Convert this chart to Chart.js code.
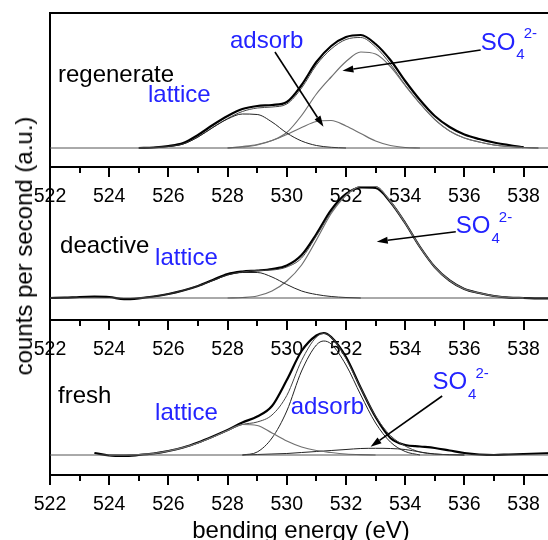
<!DOCTYPE html>
<html>
<head>
<meta charset="utf-8">
<script src="https://cdn.jsdelivr.net/npm/chart.js@4.4.1/dist/chart.umd.min.js"></script>
<style>
  html, body { margin: 0; padding: 0; background: #fff; }
  #wrap { position: relative; width: 548px; height: 540px; overflow: hidden; background: #fff; }
  canvas { position: absolute; left: 0; }
  #ytitle {
    position: absolute; left: 24px; top: 246px;
    transform: translate(-50%, -50%) rotate(-90deg);
    font: 24px "Liberation Sans", Arial, sans-serif;
    line-height: 1; white-space: nowrap; color: #000;
  }
</style>
</head>
<body>
<div id="wrap">
  <canvas id="regenChart" width="552" height="212" style="top:0px"></canvas>
  <canvas id="deactChart" width="552" height="208" style="top:157px"></canvas>
  <canvas id="freshChart" width="552" height="236" style="top:310px"></canvas>
  <div id="ytitle">counts per second (a.u.)</div>
</div>
<script>
// binding energy grid (eV)
const energyGrid = [522, 522.5, 523, 523.5, 524, 524.5, 525, 525.5, 526, 526.5, 527, 527.5,
  528, 528.5, 529, 529.5, 530, 530.5, 531, 531.5, 532, 532.5, 533, 533.5,
  534, 534.5, 535, 535.5, 536, 536.5, 537, 537.5, 538, 538.5, 539];
const freshEnergy = [522, 522.5, 523, 523.5, 524, 524.5, 525, 525.5, 526, 526.5, 527, 527.5,
  528, 528.5, 529, 529.5, 530, 530.5, 531, 531.25, 531.5, 532, 532.5, 533, 533.5,
  534, 534.5, 535, 535.5, 536, 536.5, 537, 537.5, 538, 538.5, 539];
const baselineEnergy = [522, 539];
const baselineLevel = [0, 0];
const xTickValues = [522, 524, 526, 528, 530, 532, 534, 536, 538];

// regenerate
const regenEnvelope = [null, null, null, null, null, null, 0, 0.5, 2, 5, 13, 23,
  32, 39, 42, 43, 46, 63, 86, 102, 111, 113, 104, 88,
  67, 48, 32, 21, 13.5, 9, 5.5, 3, 0.8, null, null];
const regenSum = [null, null, null, null, null, null, 0, 0.5, 1.5, 4, 11, 20.5,
  29.5, 36.5, 40, 41, 44, 60, 83, 99, 108.5, 110.5, 101, 84,
  63, 44.5, 28.5, 17, 10, 6, 3, 1.5, 0.5, 0, null];
const regenLattice = [null, null, null, null, null, null, 0, 0.5, 1.5, 4, 11, 20.5,
  29, 34, 33.5, 26, 15, 7, 2.5, 0.7, 0, null, null, null,
  null, null, null, null, null, null, null, null, null, null, null];
const regenAdsorb = [null, null, null, null, null, null, null, null, null, null, null, null,
  0, 1.5, 3.5, 7.5, 13.5, 20.5, 26.5, 27.5, 22, 14.5, 7, 2.5,
  0.5, 0, null, null, null, null, null, null, null, null, null];
const regenSulfate = [null, null, null, null, null, null, null, null, null, null, null, null,
  0, 1, 3, 7.5, 15.5, 32.5, 54, 71, 86.5, 96, 94, 81.5,
  62.5, 44.5, 28.5, 17, 10, 6, 3, 1.5, 0.5, 0, null];

// deactive
const deactEnvelope = [0, 0.3, 1, 1.3, 1, -1.2, -0.3, 1.5, 4, 7.5, 12, 18,
  24, 26.5, 27.5, 29, 32.5, 43, 64, 88, 104, 110.5, 110, 96,
  75, 51, 31, 17.5, 9, 5, 2, 0.3, 0, -0.3, -0.3];
const deactSum = [null, null, null, null, null, null, 0, 1.5, 4, 7.5, 12, 17.5,
  23, 26, 27.5, 28, 31, 40, 62, 86, 103, 111.5, 111.5, 96.5,
  75, 51, 31, 17.5, 9, 5, 2, 0.5, 0, null, null];
const deactLattice = [null, null, null, null, null, null, 0, 1.5, 4, 7.5, 12, 17.5,
  23, 25.5, 25.5, 21, 13.5, 7, 3.5, 1.5, 0.5, 0, null, null,
  null, null, null, null, null, null, null, null, null, null, null];
const deactSulfate = [null, null, null, null, null, null, null, null, null, null, null, null,
  0, 0.5, 2, 7, 17, 33, 58, 84.5, 102.5, 111.5, 111.5, 96.5,
  75, 51, 31, 17.5, 9, 5, 2, 0.5, 0, null, null];

// fresh
const freshEnvelope = [null, null, null, 2, -0.5, -1, 0, 1.5, 4, 7.5, 12.5, 18.5,
  25, 32.5, 38.5, 49, 75, 104, 119.5, 122, 118, 98, 67, 38, 17,
  10, 8.5, 7, 4.5, 2, 0.5, 0, 0.5, 1, 1.5, 2];
const freshSum = [null, null, null, null, 0, 0, 0.5, 1.5, 4, 7.5, 12, 18,
  24.5, 30.5, 33, 40, 59.5, 94.5, 118, 121.5, 118, 96.5, 66.8, 38.7, 19.5,
  9, 3, 1, 0.3, 0, null, null, null, null, null, null];
const freshLattice = [null, null, null, null, 0, 0, 0.5, 1.5, 4, 7.5, 12, 18,
  24.5, 30.5, 29.5, 22, 14, 8, 4.5, 3.5, 2.5, 1, 0.3, 0, null,
  null, null, null, null, null, null, null, null, null, null, null];
const freshAdsorb = [null, null, null, null, null, null, null, null, null, null, null, null,
  null, 0, 3, 17, 44, 84, 110, 114, 111, 90, 60, 32, 13,
  3.5, 0, null, null, null, null, null, null, null, null, null];
const freshSulfate = [null, null, null, null, null, null, null, null, null, null, null, null,
  null, 0, 0.5, 1, 1.5, 2.5, 3.5, 4, 4.5, 5.5, 6.5, 6.7, 6.5,
  5.5, 3, 1, 0.3, 0, null, null, null, null, null, null];

const FONT = '"Liberation Sans", Arial, sans-serif';
const BLUE = '#2323ff';

function series(energy, values) {
  const pts = [];
  energy.forEach((e, i) => {
    if (values[i] !== null) pts.push({ x: e, y: values[i] });
  });
  return pts;
}

function curve(data, color, width) {
  return {
    data,
    borderColor: color,
    borderWidth: width,
    pointRadius: 0,
    fill: false,
    cubicInterpolationMode: 'monotone'
  };
}

function drawArrow(ctx, x1, y1, x2, y2) {
  const ang = Math.atan2(y2 - y1, x2 - x1);
  const len = 11, half = 3.5;
  const bx = x2 - len * Math.cos(ang);
  const by = y2 - len * Math.sin(ang);
  ctx.strokeStyle = '#000';
  ctx.fillStyle = '#000';
  ctx.lineWidth = 1.6;
  ctx.beginPath();
  ctx.moveTo(x1, y1);
  ctx.lineTo(bx, by);
  ctx.stroke();
  ctx.beginPath();
  ctx.moveTo(x2, y2);
  ctx.lineTo(bx + half * Math.sin(ang), by - half * Math.cos(ang));
  ctx.lineTo(bx - half * Math.sin(ang), by + half * Math.cos(ang));
  ctx.closePath();
  ctx.fill();
}

const panelDecor = {
  id: 'panelDecor',
  afterDraw(chart, args, opts) {
    const { ctx, chartArea, scales: { x, y } } = chart;
    ctx.save();

    // minor ticks every 1 eV
    ctx.strokeStyle = '#000';
    ctx.lineWidth = 2;
    for (let v = 523; v < 539; v += 2) {
      const px = Math.round(x.getPixelForValue(v));
      ctx.beginPath();
      ctx.moveTo(px, chartArea.bottom);
      ctx.lineTo(px, chartArea.bottom + 6);
      ctx.stroke();
    }

    (opts.arrows || []).forEach(a => {
      drawArrow(ctx,
        x.getPixelForValue(a.from[0]), y.getPixelForValue(a.from[1]),
        x.getPixelForValue(a.to[0]), y.getPixelForValue(a.to[1]));
    });

    ctx.textBaseline = 'middle';
    ctx.textAlign = 'left';
    (opts.labels || []).forEach(l => {
      const px = x.getPixelForValue(l.x);
      const py = y.getPixelForValue(l.y);
      ctx.fillStyle = l.color;
      ctx.font = '24px ' + FONT;
      ctx.fillText(l.text, px, py);
      if (l.sub) {
        const w = ctx.measureText(l.text).width;
        ctx.font = '15px ' + FONT;
        ctx.fillText(l.sub, px + w + 1, py + 12);
        const ws = ctx.measureText(l.sub).width;
        ctx.fillText(l.sup, px + w + ws, py - 9);
      }
    });
    ctx.restore();
  }
};

function makePanel(canvasId, datasets, yMin, yMax, padTop, axisHeight, decor, extra) {
  const scales = {
    x: {
      type: 'linear',
      min: 522,
      max: 538.96,
      afterFit: s => { s.height = axisHeight; },
      grid: { drawOnChartArea: false, drawTicks: true, tickLength: 10, color: '#000', lineWidth: 2 },
      border: { display: true, color: '#000', width: 2 },
      afterBuildTicks: s => { s.ticks = xTickValues.map(v => ({ value: v })); },
      ticks: {
        color: '#000',
        padding: 8,
        maxRotation: 0,
        autoSkip: false,
        font: { family: FONT, size: 19.5 }
      },
      title: extra.xTitle ? {
        display: true,
        text: extra.xTitle,
        color: '#000',
        padding: 0,
        font: { family: FONT, size: 24 }
      } : { display: false }
    },
    y: {
      type: 'linear',
      min: yMin,
      max: yMax,
      afterFit: s => { s.width = 50; },
      grid: { display: false, drawTicks: false },
      border: { display: true, color: '#000', width: 2 },
      ticks: { display: false }
    }
  };
  if (extra.topBorder) {
    scales.xTop = {
      type: 'linear',
      position: 'top',
      min: 522,
      max: 538.96,
      afterFit: s => { s.height = 0; },
      grid: { display: false, drawTicks: false },
      border: { display: true, color: '#000', width: 2 },
      ticks: { display: false }
    };
  }
  return new Chart(document.getElementById(canvasId), {
    type: 'line',
    data: { datasets },
    options: {
      responsive: false,
      animation: false,
      layout: { padding: { top: padTop, left: 0, right: 0, bottom: 0 } },
      scales,
      plugins: {
        legend: { display: false },
        tooltip: { enabled: false },
        panelDecor: decor
      }
    },
    plugins: [panelDecor]
  });
}

const GRAY = '#707070';
const baseLine = () => curve(series(baselineEnergy, baselineLevel), '#555', 1);

makePanel('regenChart', [
  baseLine(),
  curve(series(energyGrid, regenLattice), '#222', 1),
  curve(series(energyGrid, regenAdsorb), GRAY, 1.2),
  curve(series(energyGrid, regenSulfate), GRAY, 1.2),
  curve(series(energyGrid, regenSum), '#444', 1),
  curve(series(energyGrid, regenEnvelope), '#000', 2.2)
], -19, 135, 13, 45, {
  labels: [
    { text: 'regenerate', x: 522.27, y: 73, color: '#000' },
    { text: 'lattice', x: 525.31, y: 53, color: BLUE },
    { text: 'adsorb', x: 528.08, y: 106.3, color: BLUE },
    { text: 'SO', sub: '4', sup: '2-', x: 536.55, y: 105, color: BLUE }
  ],
  arrows: [
    { from: [529.6, 96], to: [531.24, 21.3] },
    { from: [536.55, 98], to: [531.88, 77.3] }
  ]
}, { topBorder: true });

makePanel('deactChart', [
  baseLine(),
  curve(series(energyGrid, deactLattice), '#222', 1),
  curve(series(energyGrid, deactSulfate), GRAY, 1.2),
  curve(series(energyGrid, deactSum), '#444', 1),
  curve(series(energyGrid, deactEnvelope), '#000', 2.2)
], -22, 131, 10, 45, {
  labels: [
    { text: 'deactive', x: 522.34, y: 51.3, color: '#000' },
    { text: 'lattice', x: 525.55, y: 39.7, color: BLUE },
    { text: 'SO', sub: '4', sup: '2-', x: 535.71, y: 71.3, color: BLUE }
  ],
  arrows: [
    { from: [535.71, 66.3], to: [533.04, 56.3] }
  ]
}, {});

makePanel('freshChart', [
  baseLine(),
  curve(series(freshEnergy, freshLattice), GRAY, 1.2),
  curve(series(freshEnergy, freshAdsorb), '#222', 1),
  curve(series(freshEnergy, freshSulfate), '#222', 1),
  curve(series(freshEnergy, freshSum), '#444', 1),
  curve(series(freshEnergy, freshEnvelope), '#000', 2.2)
], -20, 135, 10, 71, {
  labels: [
    { text: 'fresh', x: 522.27, y: 58.3, color: '#000' },
    { text: 'lattice', x: 525.55, y: 41.7, color: BLUE },
    { text: 'adsorb', x: 530.13, y: 47.7, color: BLUE },
    { text: 'SO', sub: '4', sup: '2-', x: 534.92, y: 72.3, color: BLUE }
  ],
  arrows: [
    { from: [535.25, 59], to: [532.83, 8.3] }
  ]
}, { xTitle: 'bending energy (eV)' });
</script>
</body>
</html>
